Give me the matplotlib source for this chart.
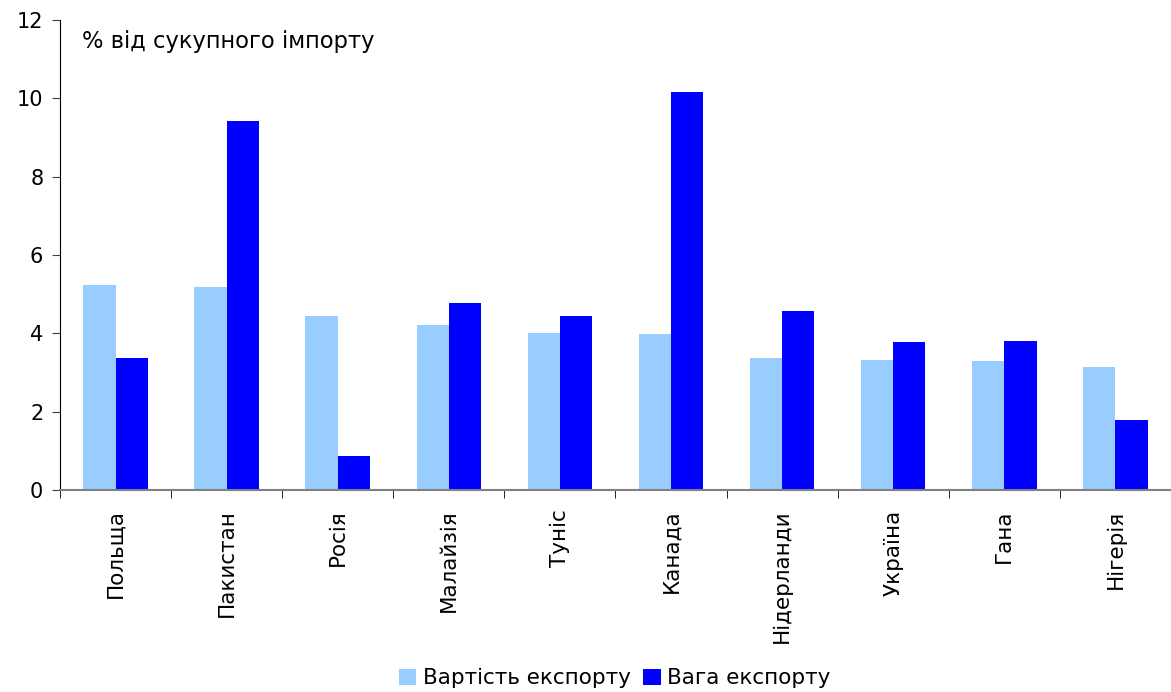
import matplotlib.pyplot as plt
import numpy as np

countries = ["Польща", "Пакистан", "Росія", "Малайзія", "Туніс",
             "Канада", "Нідерланди", "Україна", "Гана", "Нігерія"]
export_value = [5.23, 5.18, 4.44, 4.21, 4.01, 3.98, 3.37, 3.32, 3.29, 3.14]
export_weight = [3.37, 9.42, 0.87, 4.77, 4.44, 10.16, 4.57, 3.78, 3.80, 1.79]

plt.rcParams['font.family'] = ['DejaVu Sans']

fig = plt.figure(figsize=(11.71, 6.92), dpi=100)
ax = fig.add_axes([0.0512, 0.2919, 0.9488, 0.6792])

x = np.arange(len(countries))
w = 0.29
ax.bar(x - w / 2, export_value, width=w, color='#99ccff', label='Вартість експорту')
ax.bar(x + w / 2, export_weight, width=w, color='#0000ff', label='Вага експорту')

ax.set_xlim(-0.5, len(countries) - 0.5)
ax.set_ylim(0, 12)
ax.set_yticks(range(0, 13, 2))
ax.tick_params(axis='y', labelsize=15, length=6, color='#404040', pad=6)

# category labels centered, ticks at the category boundaries
ax.set_xticks(x)
ax.set_xticklabels(countries, rotation=90, fontsize=15.5)
ax.tick_params(axis='x', which='major', length=0, pad=14)
ax.set_xticks(np.arange(-0.5, len(countries)), minor=True)
ax.tick_params(axis='x', which='minor', length=6, color='black')

for s in ['top', 'right']:
    ax.spines[s].set_visible(False)
ax.spines['left'].set_color('black')
ax.spines['bottom'].set_color('#808080')
ax.spines['bottom'].set_linewidth(1.5)

ax.text(0.02, 0.955, '% від сукупного імпорту', transform=ax.transAxes,
        fontsize=16.3, va='center', ha='left')

fig.legend(loc='center', bbox_to_anchor=(0.525, 0.02), ncol=2, frameon=False,
           fontsize=15.5, handlelength=0.8, handleheight=0.8, handletextpad=0.3,
           columnspacing=0.6)

fig.savefig('out.png', dpi=100)
